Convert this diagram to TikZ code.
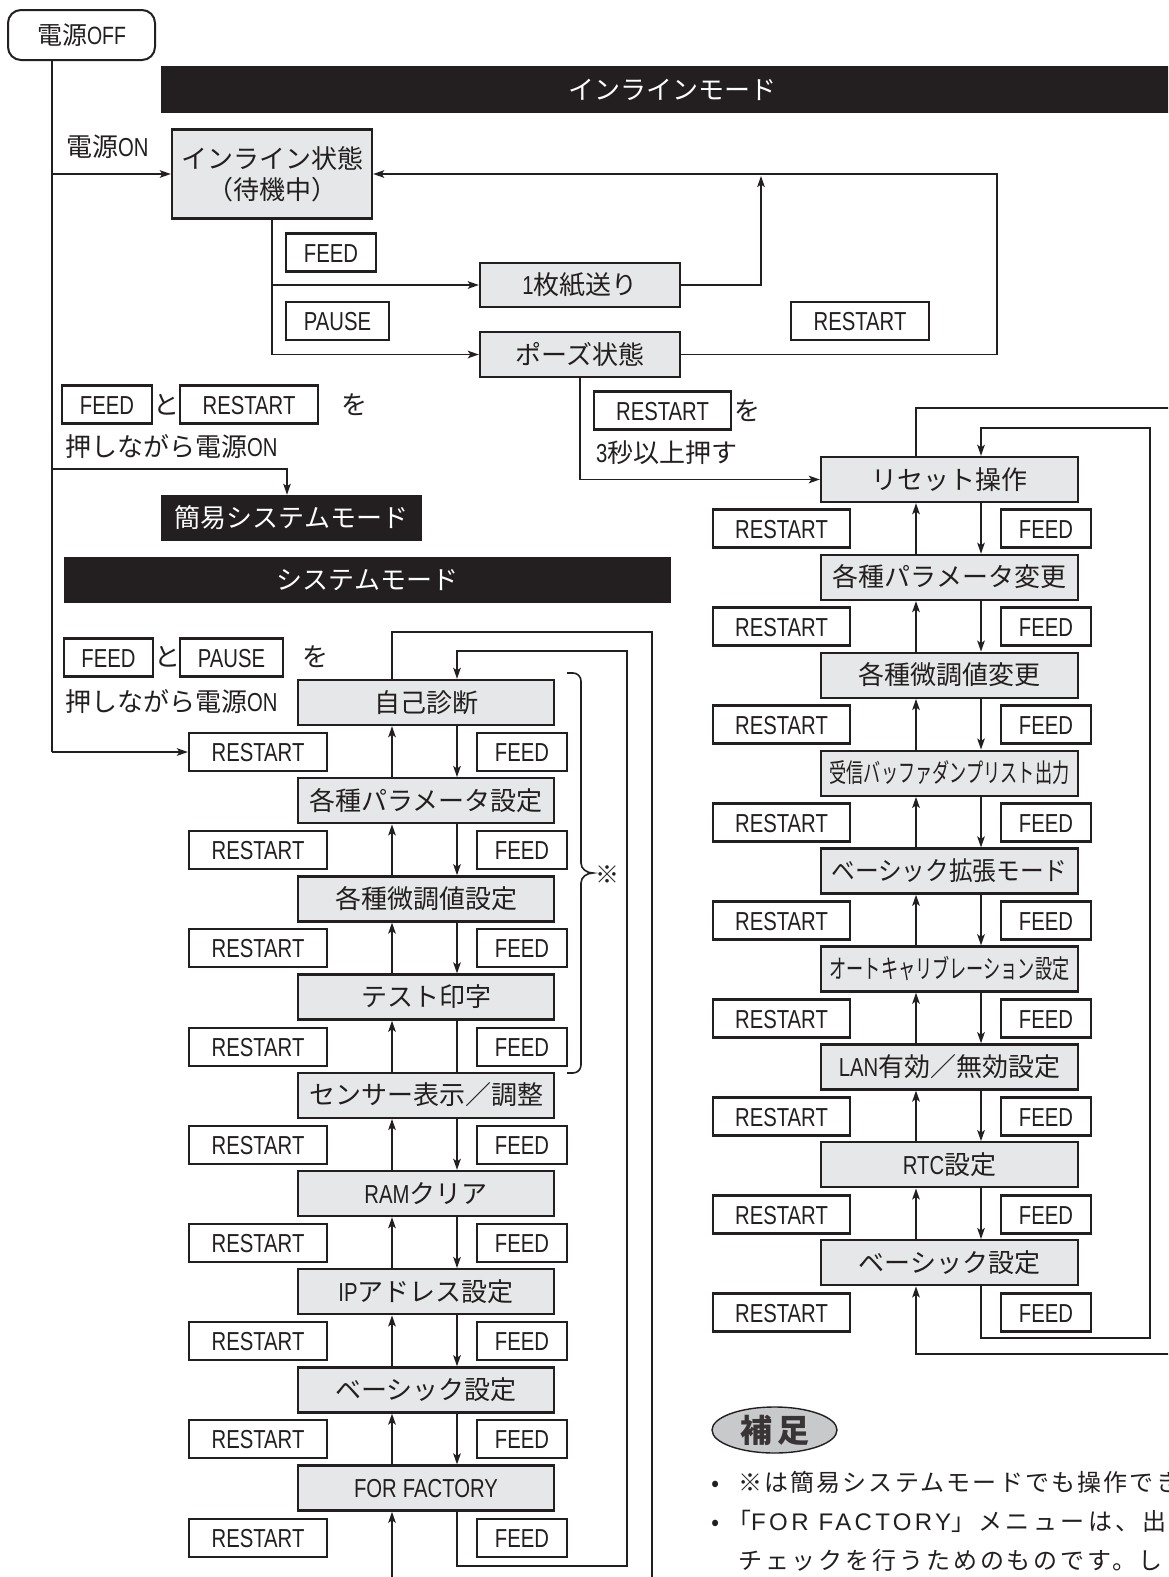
\documentclass[tikz,border=0pt]{standalone}
\usepackage{fontspec}
\usepackage{graphicx}
\usetikzlibrary{arrows.meta,calc,shapes.geometric}
\setmainfont{Noto Sans CJK JP}
\newfontfamily\lat{Liberation Sans}[FakeStretch=0.78]
\newfontfamily\latw{Liberation Sans}
\definecolor{ink}{HTML}{231F20}
\definecolor{boxgray}{HTML}{E6E7E8}
\definecolor{ellgray}{HTML}{C8C9CB}
\newcommand\fj{\fontsize{26}{31}\selectfont}
\newcommand\fk{\fontsize{26}{31}\selectfont\lat}
\newcommand\fn{\fontsize{24}{29}\selectfont}
\begin{document}
\begin{tikzpicture}[x=1pt,y=-1pt,
  every node/.style={text=ink},
  sline/.style={text height=22.5pt,text depth=3.5pt},
  stbase/.style={draw=ink,line width=2.3pt,fill=boxgray,minimum width=256pt,minimum height=45pt,inner sep=0pt,font=\fj},
  stbox/.style={stbase,sline},
  keybox/.style={draw=ink,line width=2.1pt,fill=white,minimum height=38pt,inner sep=0pt,font=\fk,text height=19pt,text depth=0pt},
  lbl/.style={inner sep=0pt,font=\fj,sline},
  modebar/.style={fill=ink,inner sep=0pt,minimum height=46pt,text=white,font=\fj,sline},
  conn/.style={draw=ink,line width=1.9pt},
  arr/.style={conn,-{Stealth[length=11pt,width=7.5pt,inset=2.5pt]}},
]
\fill[white] (0,0) rectangle (1168,1577);
\useasboundingbox (0,0) rectangle (1168,1577);
\clip (0,0) rectangle (1168,1577);

% ---------- top part ----------
\node[draw=ink,line width=2pt,rounded corners=13pt,minimum width=147pt,minimum height=50pt,inner sep=0pt,font=\fontsize{25}{30}\selectfont,text height=21.5pt,text depth=3.5pt] (off) at (81.5,35) {電源{\lat OFF}};
\node[modebar,minimum width=1022pt,minimum height=47pt] (inlbar) at (672,89.5) {インラインモード};
\node[lbl,anchor=west] (pon) at (66,147) {電源{\lat ON}};
\node[stbase,minimum width=200pt,minimum height=89pt,align=center] (inl) at (272,174) {インライン状態\\（待機中）};
\node[keybox,minimum width=90pt] (fk1) at (331,252.5) {FEED};
\node[stbox,minimum width=200pt,minimum height=44pt] (f1) at (580,285) {{\lat 1}枚紙送り};
\node[keybox,minimum width=103pt] (pk1) at (337.5,321) {PAUSE};
\node[stbox,minimum width=200pt] (ps) at (580,354.5) {ポーズ状態};
\node[keybox,minimum width=138pt] (rk1) at (860,321) {RESTART};
\node[keybox,minimum width=137pt] (rk2) at (662.5,410.5) {RESTART};
\node[lbl] (wo1) at (747,411) {を};
\node[lbl,anchor=west] (sec3) at (596,453) {{\lat 3}秒以上押す};

\node[keybox,minimum width=90pt] (fk2) at (107,404.5) {FEED};
\node[lbl] (to1) at (166,405) {と};
\node[keybox,minimum width=138pt] (rk3) at (249,404.5) {RESTART};
\node[lbl] (wo2) at (354,405) {を};
\node[lbl,anchor=west] (osi1) at (65,447) {押しながら電源{\lat ON}};
\node[modebar,minimum width=261pt] (kan) at (291.5,518) {簡易システムモード};
\node[modebar,minimum width=607pt] (sysbar) at (367.5,580) {システムモード};
\node[keybox,minimum width=89pt] (fk3) at (108.5,657.5) {FEED};
\node[lbl] (to2) at (167,657) {と};
\node[keybox,minimum width=103pt] (pk2) at (231.5,657.5) {PAUSE};
\node[lbl] (wo3) at (315,657) {を};
\node[lbl,anchor=west] (osi2) at (65,702) {押しながら電源{\lat ON}};

% ---------- system mode chain ----------
\node[stbox] (L0) at (426,702.5) {自己診断};
\node[stbox] (L1) at (426,800.7) {各種パラメータ設定};
\node[stbox] (L2) at (426,898.9) {各種微調値設定};
\node[stbox] (L3) at (426,997.1) {テスト印字};
\node[stbox] (L4) at (426,1095.3) {センサー表示／調整};
\node[stbox] (L5) at (426,1193.5) {{\lat RAM}クリア};
\node[stbox] (L6) at (426,1291.7) {{\lat IP}アドレス設定};
\node[stbox] (L7) at (426,1389.9) {ベーシック設定};
\node[stbox] (L8) at (426,1488.1) {{\lat FOR\hspace{6pt}FACTORY}};
\foreach \k in {0,...,8}{
  \node[keybox,minimum width=138pt] (LR\k) at (258,{752+98.2*\k}) {RESTART};
  \node[keybox,minimum width=90pt] (LF\k) at (522,{752+98.2*\k}) {FEED};
}

% ---------- inline reset chain ----------
\node[stbox,minimum width=257pt] (R0) at (949.5,479.5) {リセット操作};
\node[stbox,minimum width=257pt] (R1) at (949.5,577.4) {各種パラメータ変更};
\node[stbox,minimum width=257pt] (R2) at (949.5,675.3) {各種微調値変更};
\node[stbox,minimum width=257pt] (R3) at (949.5,773.2) {\scalebox{0.66}[1]{受信バッファダンプリスト出力}};
\node[stbox,minimum width=257pt] (R4) at (949.5,871.1) {\scalebox{0.91}[1]{ベーシック拡張モード}};
\node[stbox,minimum width=257pt] (R5) at (949.5,969) {\scalebox{0.66}[1]{オートキャリブレーション設定}};
\node[stbox,minimum width=257pt] (R6) at (949.5,1066.9) {{\lat LAN}有効／無効設定};
\node[stbox,minimum width=257pt] (R7) at (949.5,1164.8) {{\lat RTC}設定};
\node[stbox,minimum width=257pt] (R8) at (949.5,1262.7) {ベーシック設定};
\foreach \k in {0,...,8}{
  \node[keybox,minimum width=137pt] (RR\k) at (781.5,{528.5+98*\k}) {RESTART};
  \node[keybox,minimum width=90pt] (RF\k) at (1046,{528.5+98*\k}) {FEED};
}

% ---------- connectors ----------
\coordinate (v0) at (52,60);
\coordinate (jon) at (52,174);
\coordinate (jkan) at (52,469);
\coordinate (vend) at (52,752);
\draw[conn] (v0) -- (vend);
\draw[arr] (vend) -- (LR0.west);
\draw[arr] (jon) -- (inl.west);
\draw[arr] (jkan) -| ([xshift=-4.5pt]kan.north);

\draw[arr] (inl.south) |- (ps.west);
\draw[arr] (inl.south |- f1.west) -- (f1.west);
\coordinate (r1) at (761,176);
\draw[arr] (f1.east) -| (r1);
\coordinate (r2) at (997,174);
\draw[arr] (ps.east) -| (r2) -- (inl.east);
\draw[arr] (ps.south) |- (R0.west);

\foreach \k/\tp in {0/arr,1/arr,2/arr,3/conn,4/arr,5/arr,6/arr,7/arr}{
  \pgfmathtruncatemacro\n{\k+1}
  \draw[arr] ([xshift=-34pt]L\n.north) -- ([xshift=-34pt]L\k.south);
  \draw[\tp] ([xshift=31pt]L\k.south) -- ([xshift=31pt]L\n.north);
}
\foreach \k in {0,...,7}{
  \pgfmathtruncatemacro\n{\k+1}
  \draw[arr] ([xshift=-33.5pt]R\n.north) -- ([xshift=-33.5pt]R\k.south);
  \draw[arr] ([xshift=31.5pt]R\k.south) -- ([xshift=31.5pt]R\n.north);
}

\coordinate (lo1) at (652,632);
\coordinate (lo2) at (652,1620);
\draw[arr] ([xshift=-34pt]L0.north) |- (lo1) -- (lo2) -| ([xshift=-34pt]L8.south);
\coordinate (li1) at (627,1566);
\coordinate (li2) at (627,651);
\draw[arr] ([xshift=31pt]L8.south) |- (li1) -- (li2) -| ([xshift=31pt]L0.north);

\coordinate (ro1) at (1210,408);
\coordinate (ro2) at (1210,1354);
\draw[arr] ([xshift=-33.5pt]R0.north) |- (ro1) -- (ro2) -| ([xshift=-33.5pt]R8.south);
\coordinate (ri1) at (1150,1338);
\coordinate (ri2) at (1150,428);
\draw[arr] ([xshift=31.5pt]R8.south) |- (ri1) -- (ri2) -| ([xshift=31.5pt]R0.north);

% bracket
\draw[conn,line width=1.6pt] (567,673) -- (573,673) to[out=0,in=90] (581,681) -- (581,863) to[out=-90,in=180] (593,873) to[out=180,in=90] (581,883) -- (581,1065) to[out=-90,in=0] (573,1073) -- (567,1073);
\node[lbl,font=\fontsize{24}{28}\selectfont] (mark) at (607,874) {※};

% ---------- notes ----------
\node[ellipse,draw=ink,line width=1.4pt,fill=ellgray,minimum width=125pt,minimum height=46pt,inner sep=0pt,font=\fontsize{32}{36}\selectfont\bfseries,text=ink!90] (hosoku) at (774.5,1430) {補\hspace{5pt}足};
\node[lbl,font=\fn] (d1) at (716,1482) {•};
\node[lbl,font=\fn,anchor=west] (n1) at (738,1482) {\addfontfeature{LetterSpace=9}※は簡易システムモードでも操作でき};
\node[lbl,font=\fn] (d2) at (716,1521) {•};
\node[lbl,font=\fn,anchor=west] (n2) at (727,1521) {\addfontfeature{LetterSpace=14}「{\latw\addfontfeature{LetterSpace=14}FOR FACTORY}」メニューは、出};
\node[lbl,font=\fn,anchor=west] (n3) at (738,1560) {\addfontfeature{LetterSpace=12}チェックを行うためのものです。し};
\end{tikzpicture}
\end{document}
